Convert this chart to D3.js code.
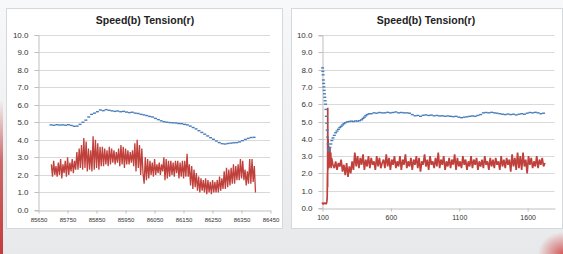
<!DOCTYPE html>
<html><head><meta charset="utf-8">
<script src="https://cdn.jsdelivr.net/npm/d3@7"></script>
<style>body{margin:0;background:#eceeef}svg{display:block}</style>
</head><body>
<svg id="c" width="563" height="254"></svg>
<script>
// ---------- data ----------
const chartTitle = "Speed(b) Tension(r)";
const yTickValues = [0,1,2,3,4,5,6,7,8,9,10];
const leftXTicks = [85650,85750,85850,85950,86050,86150,86250,86350,86450];
const rightXTicks = [100,600,1100,1600];

// left: speed (blue), x from 85695 every 10
const leftBlueStart = 85695, leftBlueStep = 10;
const leftBlue = [4.85,4.83,4.86,4.84,4.85,4.83,4.86,4.82,4.77,4.78,4.88,5.0,5.12,5.3,5.45,5.52,5.6,5.7,5.66,5.72,
  5.68,5.65,5.62,5.64,5.6,5.62,5.58,5.55,5.57,5.52,5.5,5.45,5.42,5.38,5.33,5.3,5.22,5.15,5.08,5.03,
  5.0,4.98,4.97,4.96,4.93,4.92,4.88,4.85,4.78,4.7,4.62,4.52,4.42,4.32,4.22,4.12,4.03,3.93,3.84,3.78,
  3.76,3.79,3.81,3.83,3.84,3.88,3.95,4.02,4.08,4.13,4.14];

// left: tension (red), x from 85696 every 4
const leftRedStart = 85696, leftRedStep = 4;
const leftRed = [2.6,1.9,2.8,2.0,2.5,
  1.9,2.7,2.0,2.9,1.8,2.6,2.1,2.8,1.9,3.0,2.0,2.7,
  2.2,2.9,2.1,2.8,2.3,
  3.3,2.3,3.5,2.4,3.7,
  2.3,4.1,2.4,3.9,2.2,
  3.5,2.3,3.4,
  2.2,4.2,2.3,4.0,
  2.4,3.8,2.3,3.6,2.5,
  3.6,2.5,3.5,2.6,3.4,2.5,3.6,2.6,
  3.5,2.7,3.4,2.6,3.3,2.7,3.5,
  2.5,3.7,2.6,3.6,2.4,3.5,2.6,3.4,
  2.6,3.3,2.7,3.4,2.5,
  3.8,2.2,4.0,2.4,3.7,
  2.0,3.5,2.1,
  1.5,3.0,1.7,
  2.9,1.8,2.8,2.0,2.7,1.9,2.9,2.0,2.6,
  2.1,2.7,2.0,2.6,2.2,
  3.0,1.7,2.9,1.8,2.8,
  1.9,2.8,2.0,2.7,1.9,2.8,2.1,
  2.8,1.8,2.7,1.9,2.8,
  1.8,2.8,1.9,3.2,1.9,
  2.6,1.4,2.5,1.2,2.3,1.3,2.1,1.1,
  1.9,1.0,1.8,1.1,1.7,1.0,1.8,
  0.9,1.7,1.0,1.6,0.9,1.7,1.0,1.6,1.0,1.7,
  1.0,1.9,1.1,1.8,1.2,
  2.2,1.2,2.4,1.3,2.3,1.4,2.4,1.5,
  2.6,1.5,2.5,1.7,2.6,
  1.7,2.9,1.8,2.8,1.7,
  2.3,1.4,2.2,1.5,2.9,
  1.5,2.9,1.6,2.5,1.0];

// right: speed (blue) start-up points [x, y]
const rightBlueStartup = [[104,8.1],[106,7.9],[108,7.7],[110,7.4],[112,7.2],[114,7.0],[116,6.8],[118,6.6],[120,6.4],
  [123,6.2],[126,6.0],[129,5.7],[132,5.3],[135,4.9],[138,4.5],[141,4.1],[144,3.7],[147,3.4],[152,3.3],[158,3.5],
  [165,3.7],[172,3.9],[180,4.05],[190,4.2],[200,4.35],[210,4.45],[220,4.55],[230,4.65],[240,4.72],[250,4.8],
  [260,4.87],[270,4.93],[285,4.98],[300,5.0],[315,5.02],[330,5.0],[345,5.03],[360,5.02],[375,5.05],[390,5.1],
  [400,5.18],[410,5.25],[420,5.33],[430,5.4],[445,5.45]];
// right: speed (blue) steady part, x from 460 every 20
const rightBlueStart = 460, rightBlueStep = 20;
const rightBlue = [5.45,5.5,5.48,5.52,5.5,5.5,5.53,5.5,5.52,5.55,5.5,5.52,5.5,5.5,5.48,5.4,5.33,5.35,5.3,5.36,
  5.38,5.35,5.37,5.33,5.35,5.32,5.33,5.3,5.32,5.3,5.28,5.3,5.25,5.22,5.25,5.27,5.3,5.32,5.3,5.35,
  5.4,5.5,5.52,5.5,5.53,5.5,5.48,5.45,5.42,5.4,5.43,5.4,5.42,5.38,5.42,5.45,5.42,5.48,5.52,5.5,
  5.53,5.5,5.45,5.48];

// right: tension (red) start-up points [x, y]
const rightRedStartup = [[100,0.25],[105,0.3],[110,0.2],[115,0.3],[120,0.25],[125,0.3],[130,0.22],[135,0.35],
  [138,0.6],[140,2.0],[141,1.2],[142,5.8],[143,2.2],[145,4.0],[147,2.5],[149,3.6],[151,2.3],[153,3.4],
  [156,2.6],[158,3.5],[161,2.4],[164,3.2],[167,2.3],[170,2.9]];
// right: tension (red) steady part, x from 180 every 10
const rightRedStart = 180, rightRedStep = 10;
const rightRed = [2.5,2.3,2.7,2.2,2.6,2.4,2.8,
  2.1,2.5,1.9,2.6,1.8,2.4,2.0,
  2.7,2.2,3.2,2.4,
  3.0,2.3,2.9,2.5,3.1,2.2,2.8,2.4,3.0,2.3,
  2.9,2.5,2.7,2.2,3.0,2.4,2.9,2.3,2.6,2.8,
  2.3,3.1,2.4,2.9,2.2,2.8,2.5,3.0,2.3,2.7,
  2.4,3.0,2.2,2.8,2.5,3.1,2.3,2.7,2.4,2.9,
  2.2,2.8,2.5,3.0,2.3,2.9,2.1,2.7,2.5,3.1,
  2.4,2.8,2.2,3.0,2.5,2.7,2.3,2.9,2.4,3.2,
  2.3,2.8,2.5,3.0,2.2,2.7,2.4,2.9,2.3,2.8,
  2.5,3.1,2.2,2.9,2.4,2.7,2.3,3.0,2.5,2.8,
  2.2,2.7,2.4,3.0,2.3,2.8,2.5,2.9,2.2,2.7,
  2.4,2.8,2.3,3.0,2.5,2.7,2.2,2.9,2.4,2.8,
  2.3,2.9,2.5,2.7,2.2,3.0,2.4,2.8,2.3,2.9,
  2.5,2.8,2.1,3.1,2.4,2.9,2.2,3.2,2.3,3.0,
  2.2,3.2,2.4,2.8,2.0,3.0,2.5,2.9,2.3,2.7,
  2.4,3.0,2.3,2.8,2.5,2.9,2.4,2.6];

// ---------- drawing ----------
const BLUE = "#4a7ebb", RED = "#c0403c";
const svg = d3.select("#c");
const defs = svg.append("defs");
const bg = defs.append("linearGradient").attr("id","bg").attr("x1",0).attr("y1",0).attr("x2",0).attr("y2",1);
bg.append("stop").attr("offset","0").attr("stop-color","#f6f8fa");
bg.append("stop").attr("offset","1").attr("stop-color","#e8e9ea");
const lg = defs.append("linearGradient").attr("id","redl").attr("x1",0).attr("y1",0).attr("x2",0).attr("y2",1);
lg.append("stop").attr("offset","0").attr("stop-color","#c43c3c").attr("stop-opacity",0);
lg.append("stop").attr("offset","0.4").attr("stop-color","#c43c3c").attr("stop-opacity",0.75);
lg.append("stop").attr("offset","1").attr("stop-color","#c43c3c").attr("stop-opacity",1);
const rg = defs.append("radialGradient").attr("id","redc").attr("cx",1).attr("cy",1).attr("r",1);
rg.append("stop").attr("offset","0").attr("stop-color","#d04040").attr("stop-opacity",0.85);
rg.append("stop").attr("offset","1").attr("stop-color","#d04040").attr("stop-opacity",0);

svg.append("rect").attr("width",563).attr("height",254).attr("fill","url(#bg)");
svg.append("rect").attr("x",0).attr("y",100).attr("width",3).attr("height",154).attr("fill","url(#redl)");
svg.append("rect").attr("x",538).attr("y",232).attr("width",25).attr("height",22).attr("fill","url(#redc)");

function panel(cfg){
  const g = svg.append("g");
  g.append("rect").attr("x",cfg.box[0]+0.5).attr("y",cfg.box[1]+0.5)
    .attr("width",cfg.box[2]).attr("height",cfg.box[3])
    .attr("fill","#fff").attr("stroke","#d6d9dc");
  g.append("text").attr("x",cfg.titleX).attr("y",24).attr("text-anchor","middle")
    .attr("font-family","Liberation Sans, Arial, sans-serif").attr("font-weight","bold")
    .attr("font-size","10.5px").attr("fill","#222").text(chartTitle);
  const x = d3.scaleLinear().domain(cfg.xDomain).range([cfg.left, cfg.right]);
  const y = d3.scaleLinear().domain([0,10]).range([cfg.bottom, cfg.top]);
  g.append("g").selectAll("line").data(yTickValues.filter(d=>d>0)).join("line")
    .attr("x1",cfg.left).attr("x2",cfg.right)
    .attr("y1",d=>Math.round(y(d))+0.5).attr("y2",d=>Math.round(y(d))+0.5)
    .attr("stroke","#d9d9d9").attr("stroke-width",1);
  const ya = g.append("g").attr("transform",`translate(${cfg.left+0.5},0.5)`)
    .call(d3.axisLeft(y).tickValues(yTickValues).tickFormat(d3.format(".1f")).tickSize(4).tickPadding(6));
  ya.select(".domain").attr("stroke","#bfbfbf");
  ya.selectAll(".tick line").attr("stroke","#bfbfbf");
  ya.selectAll(".tick text").attr("font-family","Liberation Sans, Arial, sans-serif")
    .attr("font-size","8px").attr("fill","#333");
  ya.selectAll(".tick").attr("transform",d=>`translate(0,${Math.round(y(d))})`);
  const xa = g.append("g").attr("transform",`translate(0.5,${Math.round(cfg.bottom)+0.5})`)
    .call(d3.axisBottom(x).tickValues(cfg.xTicks).tickFormat(d3.format("d")).tickSize(3).tickSizeOuter(0).tickPadding(4));
  xa.select(".domain").attr("stroke","#bfbfbf");
  xa.selectAll(".tick line").attr("stroke","#bfbfbf");
  xa.selectAll(".tick text").attr("font-family","Liberation Sans, Arial, sans-serif")
    .attr("font-size",cfg.xFont).attr("fill","#333");
  return {g,x,y};
}

// left panel
const L = panel({box:[6,8,276,220], titleX:145, xDomain:[85650,86450], left:38, right:270, top:34.5, bottom:210,
  xTicks:leftXTicks, xFont:"6px"});
const lRedPts = leftRed.map((v,i)=>[leftRedStart+i*leftRedStep, v]);
L.g.append("path").datum(lRedPts)
  .attr("d", d3.line().x(d=>L.x(d[0])).y(d=>L.y(d[1])))
  .attr("fill","none").attr("stroke",RED).attr("stroke-width",1.3).attr("stroke-linejoin","bevel");
const lBluePts = leftBlue.map((v,i)=>[leftBlueStart+i*leftBlueStep, v]);
L.g.append("g").selectAll("rect").data(lBluePts).join("rect")
  .attr("x",d=>L.x(d[0])-1.5).attr("y",d=>L.y(d[1])-0.7).attr("width",3).attr("height",1.4).attr("fill",BLUE);

// right panel
const R = panel({box:[291,8,271,220], titleX:426, xDomain:[100,1800], left:322, right:554.5, top:35, bottom:208,
  xTicks:rightXTicks, xFont:"7px"});
const rRedPts = rightRedStartup.concat(rightRed.map((v,i)=>[rightRedStart+i*rightRedStep, v]));
R.g.append("path").datum(rRedPts)
  .attr("d", d3.line().x(d=>R.x(d[0])).y(d=>R.y(d[1])))
  .attr("fill","none").attr("stroke",RED).attr("stroke-width",1.7).attr("stroke-linejoin","bevel");
const rBluePts = rightBlueStartup.concat(rightBlue.map((v,i)=>[rightBlueStart+i*rightBlueStep, v]));
R.g.append("g").selectAll("rect").data(rBluePts).join("rect")
  .attr("x",d=>R.x(d[0])-1.5).attr("y",d=>R.y(d[1])-0.7).attr("width",3).attr("height",1.4).attr("fill",BLUE);
</script>
</body></html>
